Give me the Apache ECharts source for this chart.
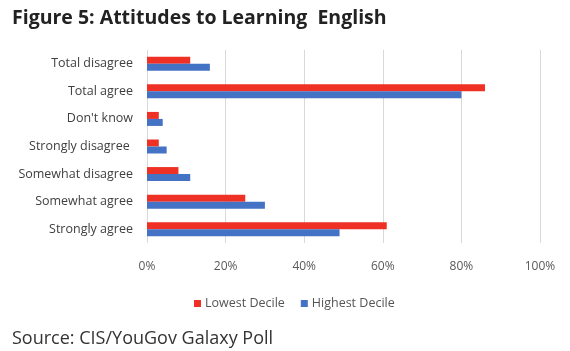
<!DOCTYPE html>
<html>
<head>
<meta charset="utf-8">
<script src="https://cdn.jsdelivr.net/npm/echarts@6/dist/echarts.min.js"></script>
<style>
    html, body { margin: 0; padding: 0; background: #fff; }
    #chart { width: 570px; height: 351px; }
</style>
</head>
<body>
<div id="chart"></div>
<script>
    // categories listed bottom to top, like the picture reads from below
    var categories = ['Strongly agree', 'Somewhat agree', 'Somewhat disagree', 'Strongly disagree ', "Don't know", 'Total agree', 'Total disagree'];
    var lowestDecile = [61, 25, 8, 3, 3, 86, 11];
    var highestDecile = [49, 30, 11, 5, 4, 80, 16];
    var xTicks = { min: 0, max: 100, interval: 20 };

    var chart = echarts.init(document.getElementById('chart'));
    var option = {
        animation: false,
        textStyle: { fontFamily: 'Open Sans' },
        title: [{
            text: 'Figure 5: Attitudes to Learning  English',
            left: 7, top: 3,
            textStyle: { fontSize: 19.5, fontWeight: 'bold', color: '#222', fontFamily: 'Open Sans' }
        }, {
            text: 'Source: CIS/YouGov Galaxy Poll',
            left: 7, top: 325,
            textStyle: { fontSize: 18, fontWeight: 'normal', color: '#333', fontFamily: 'Open Sans' }
        }],
        legend: {
            data: ['Lowest Decile', 'Highest Decile'],
            left: 189, top: 292,
            itemWidth: 7, itemHeight: 7, itemGap: 16,
            icon: 'rect',
            textStyle: { fontSize: 12.5, color: '#555', padding: [0, 0, 0, -1] }
        },
        grid: { left: 147, right: 30, top: 50, bottom: 108 },
        xAxis: {
            type: 'value',
            min: xTicks.min, max: xTicks.max, interval: xTicks.interval,
            axisLine: { show: false },
            axisTick: { show: false },
            splitLine: { lineStyle: { color: '#d9d9d9', width: 1 } },
            axisLabel: { formatter: '{value}%', color: '#595959', fontSize: 12, margin: 18 }
        },
        yAxis: {
            type: 'category',
            data: categories,
            axisLine: { show: false },
            axisTick: { show: false },
            axisLabel: { color: '#404040', fontSize: 12.5, margin: 14 }
        },
        series: [{
            name: 'Lowest Decile',
            type: 'bar',
            data: lowestDecile,
            barWidth: 7,
            barGap: '0%',
            itemStyle: { color: '#ee3124' }
        }, {
            name: 'Highest Decile',
            type: 'bar',
            data: highestDecile,
            barWidth: 7,
            barGap: '0%',
            itemStyle: { color: '#4472c4' }
        }]
    };
    chart.setOption(option);
</script>
</body>
</html>
